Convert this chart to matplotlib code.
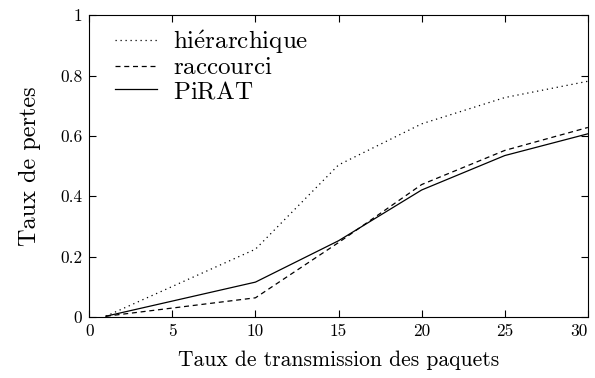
import matplotlib
matplotlib.use("Agg")
import matplotlib.pyplot as plt

# data
x = [1, 10, 15, 20, 25, 30]
hierarchique = [0.003, 0.225, 0.504, 0.640, 0.727, 0.781]
raccourci = [0.003, 0.064, 0.247, 0.439, 0.552, 0.628]
pirat = [0.003, 0.116, 0.253, 0.421, 0.535, 0.607]

xticks = [0, 5, 10, 15, 20, 25, 30]
yticks = [0, 0.2, 0.4, 0.6, 0.8, 1]
ytick_labels = ["0", "0.2", "0.4", "0.6", "0.8", "1"]

plt.rcParams["font.family"] = ["cmr10", "DejaVu Serif"]
plt.rcParams["axes.formatter.use_mathtext"] = True
plt.rcParams["mathtext.fontset"] = "cm"

fig = plt.figure(figsize=(5.95, 3.78), dpi=100)
ax = fig.add_axes([0.150, 0.161, 0.838, 0.799])

ax.plot(x, hierarchique, color="black", lw=0.9, linestyle=(0, (1, 3)),
        label=r"$\mathrm{hi\acute{e}rarchique}$")
ax.plot(x, raccourci, color="black", lw=0.9, linestyle=(0, (4, 3)),
        label=r"$\mathrm{raccourci}$")
ax.plot(x, pirat, color="black", lw=0.9, linestyle="-",
        label=r"$\mathrm{PiRAT}$")

ax.set_xlim(0, 30)
ax.set_ylim(0, 1)
ax.set_xticks(xticks)
ax.set_xticklabels([str(t) for t in xticks])
ax.set_yticks(yticks)
ax.set_yticklabels(ytick_labels)
ax.tick_params(direction="in", top=True, right=True, length=5, labelsize=12.5, pad=5)
# last x label sits at the figure edge, keep it inside
ax.get_xticklabels()[-1].set_horizontalalignment("right")
ax.get_xticklabels()[-1].set_x(30)

ax.set_xlabel("Taux de transmission des paquets", fontsize=15.5, labelpad=8)
ax.set_ylabel("Taux de pertes", fontsize=17.5, labelpad=14)

ax.legend(loc="upper left", bbox_to_anchor=(0.051, 0.958), frameon=False,
          fontsize=18, handlelength=1.7, handletextpad=0.64, labelspacing=0.05,
          borderaxespad=0, borderpad=0)

fig.savefig("out.png", dpi=100)
